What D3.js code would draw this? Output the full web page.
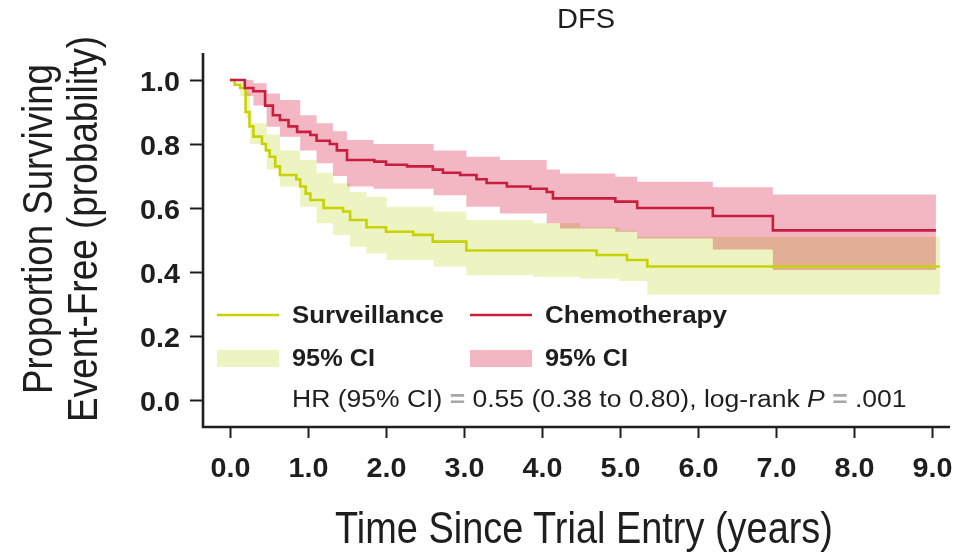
<!DOCTYPE html>
<html>
<head>
<meta charset="utf-8">
<script src="https://cdn.jsdelivr.net/npm/d3@7"></script>
<style>
  html, body { margin: 0; padding: 0; background: #fff; }
  svg { display: block; }
  text { font-family: "Liberation Sans", Arial, sans-serif; fill: #1e1e1e; }
</style>
</head>
<body>
<svg id="chart" width="958" height="557"></svg>
<script>
// Kaplan–Meier disease-free survival: step points as [time (years), proportion event-free]
const survTimes  = [0, 0.06, 0.13, 0.20, 0.25, 0.30, 0.41, 0.46, 0.51, 0.58, 0.64, 0.85, 0.90, 0.97, 1.03, 1.20, 1.45, 1.54, 1.75, 2.00, 2.35, 2.60, 3.03, 4.70, 5.09, 5.35, 9.10];
const survValues = [1.0, 0.985, 0.975, 0.90, 0.855, 0.823, 0.80, 0.78, 0.76, 0.73, 0.703, 0.69, 0.667, 0.645, 0.625, 0.60, 0.589, 0.5625, 0.54, 0.526, 0.516, 0.495, 0.467, 0.453, 0.4375, 0.417, 0.417];

const chemoTimes  = [0, 0.19, 0.30, 0.45, 0.55, 0.64, 0.75, 0.86, 1.03, 1.11, 1.28, 1.37, 1.50, 1.85, 2.00, 2.27, 2.60, 2.73, 2.95, 3.16, 3.29, 3.55, 3.85, 4.06, 4.14, 4.94, 5.22, 6.19, 6.96, 9.05];
const chemoValues = [1.0, 0.975, 0.965, 0.92, 0.89, 0.875, 0.855, 0.838, 0.828, 0.81, 0.80, 0.78, 0.75, 0.745, 0.735, 0.73, 0.72, 0.71, 0.703, 0.69, 0.678, 0.667, 0.66, 0.65, 0.63, 0.62, 0.60, 0.575, 0.53, 0.53];

// 95% confidence bands (step points: time, lower, upper)
const survCiTimes = [0, 0.13, 0.20, 0.26, 0.47, 0.64, 0.90, 1.11, 1.32, 1.54, 1.75, 2.01, 2.61, 3.03, 3.89, 4.49, 4.99, 5.22, 5.35, 9.10];
const survCiLower = [1.0, 0.95, 0.88, 0.80, 0.72, 0.667, 0.604, 0.552, 0.516, 0.479, 0.458, 0.4375, 0.417, 0.39, 0.385, 0.38, 0.372, 0.372, 0.33, 0.33];
const survCiUpper = [1.0, 0.995, 0.96, 0.865, 0.83, 0.78, 0.75, 0.71, 0.677, 0.65, 0.635, 0.604, 0.589, 0.5625, 0.552, 0.54, 0.53, 0.51, 0.51, 0.51];

const chemoCiTimes = [0, 0.19, 0.30, 0.47, 0.64, 0.90, 1.11, 1.32, 1.50, 1.84, 2.61, 3.03, 3.46, 4.06, 4.23, 4.94, 5.22, 6.19, 6.96, 9.05];
const chemoCiLower = [1.0, 0.95, 0.92, 0.854, 0.823, 0.78, 0.74, 0.70, 0.667, 0.66, 0.64, 0.604, 0.583, 0.552, 0.536, 0.526, 0.505, 0.47, 0.406, 0.406];
const chemoCiUpper = [1.0, 1.0, 0.99, 0.958, 0.9375, 0.89, 0.865, 0.84, 0.8125, 0.80, 0.78, 0.76, 0.75, 0.72, 0.708, 0.698, 0.682, 0.665, 0.642, 0.642];

const xTicks = [0, 1, 2, 3, 4, 5, 6, 7, 8, 9];
const yTicks = [0, 0.2, 0.4, 0.6, 0.8, 1.0];

const colors = {
  survLine: "#c6d300",
  survBand: "#eef3c2",
  chemoLine: "#c81e3e",
  chemoBand: "#f3b7c4"
};

const svg = d3.select("#chart");
const x = d3.scaleLinear().domain([0, 9]).range([230, 932]);
const y = d3.scaleLinear().domain([0, 1]).range([400, 80]);

const axisLeftX = 203, axisBottomY = 427;

// squeeze or stretch a text horizontally (about its anchor) to a given width
function fit(sel, w) {
  sel.each(function () {
    const n = this.getComputedTextLength();
    const k = w / n;
    const x0 = +this.getAttribute("x") || 0;
    d3.select(this).attr("transform", `translate(${x0},0) scale(${k},1) translate(${-x0},0)`);
  });
  return sel;
}

// confidence bands, blended so overlapping regions darken
const bandArea = d3.area().curve(d3.curveStepAfter)
  .x(d => x(d.t)).y0(d => y(d.lo)).y1(d => y(d.hi));

const survBand = survCiTimes.map((t, i) => ({ t, lo: survCiLower[i], hi: survCiUpper[i] }));
const chemoBand = chemoCiTimes.map((t, i) => ({ t, lo: chemoCiLower[i], hi: chemoCiUpper[i] }));

const bands = svg.append("g").style("isolation", "isolate");
bands.append("path").datum(survBand).attr("d", bandArea)
  .attr("fill", colors.survBand).style("mix-blend-mode", "multiply");
bands.append("path").datum(chemoBand).attr("d", bandArea)
  .attr("fill", colors.chemoBand).style("mix-blend-mode", "multiply");

// survival step curves
const stepLine = d3.line().curve(d3.curveStepAfter).x(d => x(d.t)).y(d => y(d.s));
svg.append("path")
  .datum(survTimes.map((t, i) => ({ t, s: survValues[i] })))
  .attr("d", stepLine).attr("fill", "none")
  .attr("stroke", colors.survLine).attr("stroke-width", 2.6);
svg.append("path")
  .datum(chemoTimes.map((t, i) => ({ t, s: chemoValues[i] })))
  .attr("d", stepLine).attr("fill", "none")
  .attr("stroke", colors.chemoLine).attr("stroke-width", 2.6);

// frame lines
svg.append("path")
  .attr("d", `M${axisLeftX},53V${axisBottomY}H950`)
  .attr("fill", "none").attr("stroke", "#1e1e1e").attr("stroke-width", 2.6);

// y axis
const yAxis = d3.axisLeft(y).tickValues(yTicks).tickFormat(d3.format(".1f"))
  .tickSize(13).tickPadding(10);
const gy = svg.append("g").attr("transform", `translate(${axisLeftX},0)`).call(yAxis);
gy.select(".domain").remove();
gy.selectAll(".tick line").attr("stroke", "#1e1e1e").attr("stroke-width", 2);
gy.selectAll(".tick text")
  .style("font-size", "28px").style("font-weight", "bold")
  .attr("fill", "#1e1e1e").attr("dy", "0.36em")
  .call(fit, 40);

// x axis
const xAxis = d3.axisBottom(x).tickValues(xTicks).tickFormat(d3.format(".1f"))
  .tickSize(11).tickPadding(19);
const gx = svg.append("g").attr("transform", `translate(0,${axisBottomY})`).call(xAxis);
gx.select(".domain").remove();
gx.selectAll(".tick line").attr("stroke", "#1e1e1e").attr("stroke-width", 2);
gx.selectAll(".tick text")
  .style("font-size", "28px").style("font-weight", "bold")
  .attr("fill", "#1e1e1e")
  .call(fit, 40);

// title
svg.append("text").attr("x", 586).attr("y", 28).attr("text-anchor", "middle")
  .style("font-size", "28px").text("DFS").call(fit, 58);

// axis titles
svg.append("text").attr("x", 584).attr("y", 543).attr("text-anchor", "middle")
  .style("font-size", "44px").text("Time Since Trial Entry (years)").call(fit, 498);

const yTitle = svg.append("g").attr("transform", "translate(0,229) rotate(-90)");
yTitle.append("text").attr("x", 0).attr("y", 52).attr("text-anchor", "middle")
  .style("font-size", "43px").text("Proportion Surviving").call(fit, 330);
yTitle.append("text").attr("x", 0).attr("y", 97).attr("text-anchor", "middle")
  .style("font-size", "43px").text("Event-Free (probability)").call(fit, 386);

// legend
const legend = svg.append("g");
const legendItems = [
  { kind: "line", color: colors.survLine, label: "Surveillance", x0: 217, tx: 292, row: 0, w: 152 },
  { kind: "line", color: colors.chemoLine, label: "Chemotherapy", x0: 470, tx: 545, row: 0, w: 182 },
  { kind: "band", color: colors.survBand, label: "95% CI", x0: 217, tx: 292, row: 1, w: 83 },
  { kind: "band", color: colors.chemoBand, label: "95% CI", x0: 470, tx: 545, row: 1, w: 83 }
];
const rowY = [315, 358];
legendItems.forEach(d => {
  const cy = rowY[d.row];
  if (d.kind === "line") {
    legend.append("line").attr("x1", d.x0).attr("x2", d.x0 + 62)
      .attr("y1", cy).attr("y2", cy)
      .attr("stroke", d.color).attr("stroke-width", 2.6);
  } else {
    legend.append("rect").attr("x", d.x0).attr("y", cy - 8)
      .attr("width", 62).attr("height", 17).attr("fill", d.color);
  }
  legend.append("text").attr("x", d.tx).attr("y", cy + 8)
    .style("font-size", "23px").style("font-weight", "bold")
    .text(d.label).call(fit, d.w);
});

// hazard ratio note
const hr = legend.append("text").attr("x", 292).attr("y", 407).style("font-size", "23px");
hr.append("tspan").text("HR (95% CI) ");
hr.append("tspan").attr("fill", "#a8a8a8").style("font-weight", "bold").text("=");
hr.append("tspan").text(" 0.55 (0.38 to 0.80), log-rank ");
hr.append("tspan").style("font-style", "italic").text("P");
hr.append("tspan").attr("fill", "#a8a8a8").style("font-weight", "bold").text(" =");
hr.append("tspan").text(" .001");
hr.call(fit, 615);
</script>
</body>
</html>
